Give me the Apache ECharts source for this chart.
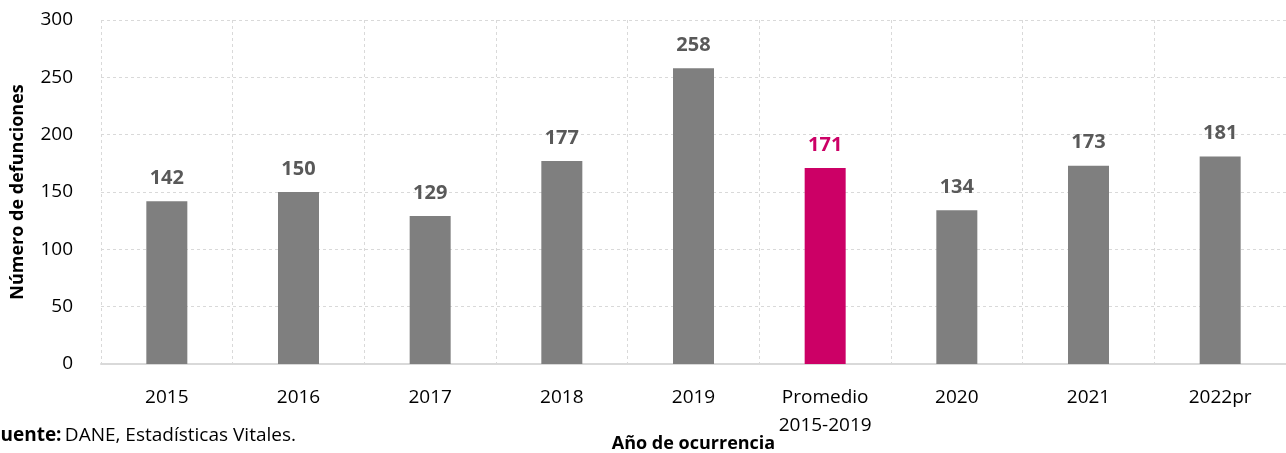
<!DOCTYPE html>
<html>
<head>
<meta charset="utf-8">
<script src="https://cdn.jsdelivr.net/npm/echarts@6/dist/echarts.min.js"></script>
<style>
  html, body { margin: 0; padding: 0; background: #fff; overflow: hidden; }
  #main { width: 1286px; height: 453px; }
</style>
</head>
<body>
<div id="main"></div>
<script>
// datos
var categorias = ['2015', '2016', '2017', '2018', '2019', 'Promedio\n2015-2019', '2020', '2021', '2022pr'];
var defunciones = [142, 150, 129, 177, 258, 171, 134, 173, 181];
var indicePromedio = 5;

var gris = '#7f7f7f';
var magenta = '#cc0066';
var fuente = '"Open Sans", "Noto Sans", sans-serif';

var myChart = echarts.init(document.getElementById('main'));

var datos = defunciones.map(function (v, i) {
    var c = i === indicePromedio ? magenta : gris;
    return {
        value: v,
        itemStyle: { color: c },
        label: { color: i === indicePromedio ? magenta : '#595959' }
    };
});

var option = {
    animation: false,
    textStyle: { fontFamily: fuente },
    grid: { left: 101, right: 0, top: 20, bottom: 89, containLabel: false, outerBoundsMode: 'none' },
    xAxis: {
        type: 'category',
        data: categorias,
        name: 'Año de ocurrencia',
        nameLocation: 'middle',
        nameGap: 71,
        nameMoveOverlap: false,
        nameTextStyle: { fontSize: 18, fontWeight: 'bold', color: '#000', fontFamily: fuente },
        axisLine: { lineStyle: { color: '#d9d9d9', width: 2 } },
        axisTick: { show: false },
        axisLabel: { fontSize: 19, color: '#000', margin: 20, lineHeight: 28, fontFamily: fuente },
        splitLine: { show: true, lineStyle: { color: '#d9d9d9', type: [3, 3] } }
    },
    yAxis: {
        type: 'value',
        min: 0,
        max: 300,
        interval: 50,
        name: 'Número de defunciones',
        nameLocation: 'middle',
        nameGap: 74,
        nameMoveOverlap: false,
        nameRotate: 90,
        nameTextStyle: { fontSize: 18, fontWeight: 'bold', color: '#000', fontFamily: fuente },
        axisLine: { show: false },
        axisTick: { show: false },
        axisLabel: { fontSize: 19, color: '#000', margin: 28, fontFamily: fuente },
        splitLine: { lineStyle: { color: '#d9d9d9', type: [3, 3] } }
    },
    graphic: [{
        type: 'text',
        left: -10,
        top: 426,
        style: {
            rich: {
                b: { fontWeight: 'bold', fontSize: 19, fontFamily: fuente, fill: '#000' },
                n: { fontSize: 19, fontFamily: fuente, fill: '#000' }
            },
            text: '{b|Fuente:} {n|DANE, Estadísticas Vitales.}'
        }
    }],
    series: [{
        name: 'Defunciones',
        type: 'bar',
        barWidth: 41,
        data: datos,
        label: {
            show: true,
            position: 'top',
            distance: 13,
            fontSize: 20,
            fontWeight: 'bold',
            fontFamily: fuente
        }
    }]
};

myChart.setOption(option);
</script>
</body>
</html>
